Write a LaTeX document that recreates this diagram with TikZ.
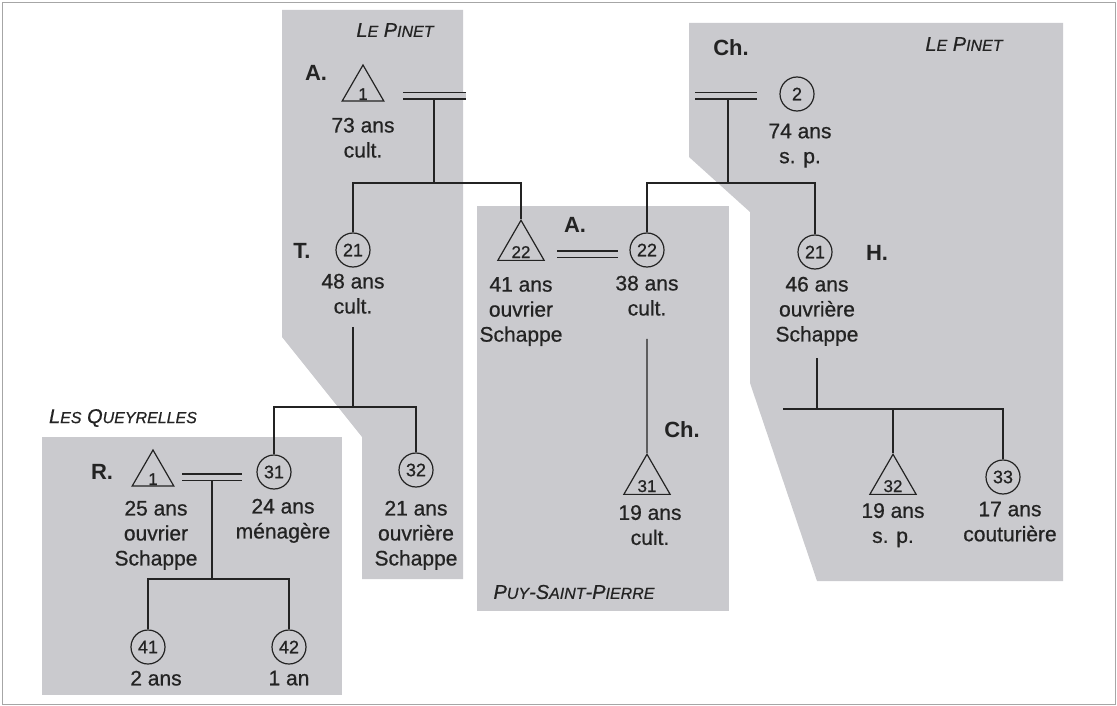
\documentclass[tikz,border=0pt]{standalone}
\usepackage{fontspec}
\setmainfont{Liberation Sans}
\newfontfamily\encre{Liberation Sans}[FakeBold=0.7]
\usetikzlibrary{positioning,shapes.geometric}

\definecolor{fond}{RGB}{202,202,206}
\definecolor{trait}{RGB}{35,35,35}
\newcommand{\pc}[1]{{\fontsize{16}{16}\selectfont #1}}
\newcommand{\tnum}[1]{\raisebox{-11pt}[0pt][0pt]{#1}}

\tikzset{
  zone/.style={fill=fond, draw=none},
  cadre/.style={draw=black!35, line width=0.8pt},
  homme/.style={regular polygon, regular polygon sides=3, draw=trait, line width=1.2pt,
    minimum size=48pt, inner sep=0pt, text=trait, font=\encre\fontsize{17}{17}\selectfont},
  femme/.style={circle, draw=trait, line width=1.2pt, minimum size=34pt, inner sep=0pt,
    text=trait, font=\encre\fontsize{18}{18}\selectfont},
  info/.style={align=center, inner sep=1pt, text=trait, font=\encre\fontsize{21}{25}\selectfont},
  nom/.style={text=trait, font=\bfseries\fontsize{22}{22}\selectfont},
  lieu/.style={text=trait, font=\encre\itshape\fontsize{20}{20}\selectfont},
  lien/.style={draw=trait, line width=1.2pt},
  mariage/.style={draw=trait, line width=1.2pt, double=fond, double distance=5pt},
}

\begin{document}
\begin{tikzpicture}[x=1pt, y=-1pt]
  \useasboundingbox (0,0) rectangle (1117,706);
  % Zones
  \draw[cadre] (2,2) rectangle (1115,704);
  \fill[zone] (282,10) -- (463,10) -- (463,579) -- (362,579) -- (362,437) -- (282,337) -- cycle;
  \fill[zone] (477,206) rectangle (729,611);
  \fill[zone] (689,23) -- (1063,23) -- (1063,581) -- (817,581) -- (750,383) -- (750,212) -- (689,157) -- cycle;
  \fill[zone] (42,437) rectangle (342,695);

  % Define nodes
  \node[lieu] (pinet1) at (395,30) {L\pc{E} P\pc{INET}};
  \node[lieu] (pinet2) at (964,44) {L\pc{E} P\pc{INET}};
  \node[lieu] (queyr) at (123,418) {L\pc{ES} Q\pc{UEYRELLES}};
  \node[lieu] (puy) at (574,592) {P\pc{UY}-S\pc{AINT}-P\pc{IERRE}};

  \node[homme] (a1) at (363,89) {\tnum{1}};
  \node[nom] (la1) at (316,73) {A.};
  \node[info, below=15pt of a1] (a1i) {73 ans\\cult.};
  \node[femme] (c2) at (797,94) {2};
  \node[nom] (lc2) at (731,48) {Ch.};
  \node[info, below=11pt of c2, xshift=3pt] (c2i) {74 ans\\s. p.};

  \node[femme] (t21) at (353,250) {21};
  \node[nom] (lt21) at (302,251) {T.};
  \node[info, below=5pt of t21] (t21i) {48 ans\\cult.};
  \node[homme] (a22) at (521,247) {\tnum{22}};
  \node[nom] (la22) at (575,225) {A.};
  \node[info, below=15pt of a22] (a22i) {41 ans\\ouvrier\\Schappe};
  \node[femme] (a22w) at (647,250) {22};
  \node[info, below=7pt of a22w] (a22wi) {38 ans\\cult.};
  \node[femme] (h21) at (815,252) {21};
  \node[nom] (lh21) at (877,253) {H.};
  \node[info, below=6pt of h21, xshift=2pt] (h21i) {46 ans\\ouvrière\\Schappe};

  \node[homme] (r1) at (153,474) {\tnum{1}};
  \node[nom] (lr1) at (102,472) {R.};
  \node[info, below=13pt of r1, xshift=3pt] (r1i) {25 ans\\ouvrier\\Schappe};
  \node[femme] (r31) at (274,472) {31};
  \node[info, below=8pt of r31, xshift=9pt] (r31i) {24 ans\\ménagère};
  \node[femme] (t32) at (416,470) {32};
  \node[info, below=12pt of t32] (t32i) {21 ans\\ouvrière\\Schappe};
  \node[femme] (c41) at (148,647) {41};
  \node[info, below=5pt of c41, xshift=8pt] (c41i) {2 ans};
  \node[femme] (c42) at (289,647) {42};
  \node[info, below=5pt of c42] (c42i) {1 an};

  \node[homme] (h31) at (647,481) {\tnum{31}};
  \node[nom] (lh31) at (682,430) {Ch.};
  \node[info, below=9pt of h31, xshift=3pt] (h31i) {19 ans\\cult.};
  \node[homme] (h32) at (893,481) {\tnum{32}};
  \node[info, below=7pt of h32] (h32i) {19 ans\\s. p.};
  \node[femme] (c33) at (1003,477) {33};
  \node[info, below=6pt of c33, xshift=7pt] (c33i) {17 ans\\couturière};

  % Connect nodes
  \coordinate (m1g) at (403,96);
  \coordinate (m1d) at (466,96);
  \coordinate (m1) at (434,99);
  \coordinate (j1) at (434,183);
  \draw[mariage] (m1g) -- (m1d);
  \draw[lien] (m1) -- (j1);
  \draw[lien] (t21) |- (j1) -| (a22);

  \coordinate (m2g) at (695,96);
  \coordinate (m2d) at (757,96);
  \coordinate (m2) at (728,99);
  \coordinate (j2) at (728,183);
  \draw[mariage] (m2g) -- (m2d);
  \draw[lien] (m2) -- (j2);
  \draw[lien] (a22w) |- (j2) -| (h21);

  \coordinate (m3g) at (557,254);
  \coordinate (m3d) at (618,254);
  \draw[mariage] (m3g) -- (m3d);
  \draw[lien, shorten <=22pt] (a22wi) -- (h31);

  \coordinate (j3) at (353,407);
  \draw[lien, shorten <=12pt] (t21i) -- (j3);
  \draw[lien] (r31) |- (j3) -| (t32);

  \coordinate (m5g) at (182,477);
  \coordinate (m5d) at (242,477);
  \coordinate (m5) at (212,480);
  \coordinate (j5) at (212,579);
  \draw[mariage] (m5g) -- (m5d);
  \draw[lien] (m5) -- (j5);
  \draw[lien] (c41) |- (j5) -| (c42);

  \coordinate (j4) at (817,409);
  \coordinate (j4g) at (783,409);
  \draw[lien, shorten <=11pt] (h21i) -- (j4);
  \draw[lien] (j4g) -| (c33);
  \draw[lien] (j4) -| (h32);
\end{tikzpicture}
\end{document}
